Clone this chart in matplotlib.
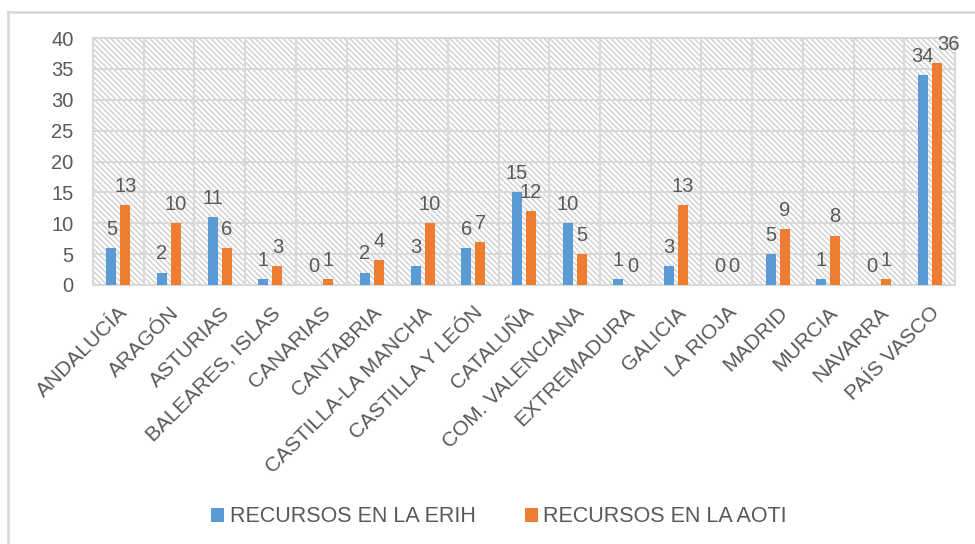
import matplotlib
matplotlib.use("Agg")
import matplotlib.pyplot as plt
from matplotlib.patches import Rectangle, Patch
from matplotlib.lines import Line2D
import numpy as np

categories = ["ANDALUCÍA", "ARAGÓN", "ASTURIAS", "BALEARES, ISLAS", "CANARIAS",
              "CANTABRIA", "CASTILLA-LA MANCHA", "CASTILLA Y LEÓN", "CATALUÑA",
              "COM. VALENCIANA", "EXTREMADURA", "GALICIA", "LA RIOJA", "MADRID",
              "MURCIA", "NAVARRA", "PAÍS VASCO"]
erih = [6, 2, 11, 1, 0, 2, 3, 6, 15, 10, 1, 3, 0, 5, 1, 0, 34]
erih_labels = ["5", "2", "11", "1", "0", "2", "3", "6", "15", "10", "1", "3", "0", "5", "1", "0", "34"]
aoti = [13, 10, 6, 3, 1, 4, 10, 7, 12, 5, 0, 13, 0, 9, 8, 1, 36]
aoti_labels = [str(v) for v in aoti]
series_names = ["RECURSOS EN LA ERIH", "RECURSOS EN LA AOTI"]
yticks = [0, 5, 10, 15, 20, 25, 30, 35, 40]

BLUE = "#5B9BD5"
ORANGE = "#ED7D31"
TXT = "#595959"
GRID = "#d9d9d9"

plt.rcParams['font.family'] = ['Liberation Sans', 'DejaVu Sans']
plt.rcParams['hatch.linewidth'] = 1.0

fig = plt.figure(figsize=(9.75, 5.44), dpi=100)
ax = fig.add_axes([93/975, 1-285/544, (955-93)/975, (285-38)/544])

# hatched background
bg = Rectangle((0, 0), 1, 1, transform=ax.transAxes, facecolor="white",
               edgecolor="#cfcfcf", hatch="\\\\\\\\\\\\", lw=0, zorder=0)
ax.add_patch(bg)

x = np.arange(len(categories))
w = 0.197
off = 0.138
ax.bar(x - off, erih, width=w, color=BLUE, zorder=3)
ax.bar(x + off, aoti, width=w, color=ORANGE, zorder=3)

n = len(categories)
for i, (xi, v, lab) in enumerate(zip(x, erih, erih_labels)):
    ax.annotate(lab, (xi - off, v), xytext=(0, 9.5), textcoords="offset points",
                ha="center", va="baseline", fontsize=14.5, color=TXT, zorder=5)
for i, (xi, v, lab) in enumerate(zip(x, aoti, aoti_labels)):
    dx = 8.5 if i == n - 1 else 0
    ax.annotate(lab, (xi + off, v), xytext=(dx, 9.5), textcoords="offset points",
                ha="center", va="baseline", fontsize=14.5, color=TXT, zorder=5)

ax.set_xlim(-0.5, n - 0.5)
ax.set_ylim(0, 40)
ax.set_yticks(yticks)
ax.set_yticklabels([str(t) for t in yticks], fontsize=14.5, color=TXT)
ax.tick_params(axis="y", length=0, pad=14)

# grid lines
for t in yticks:
    ax.axhline(t, color=GRID, lw=1.5, zorder=1)
for b in np.arange(-0.5, n, 1.0):
    ax.axvline(b, color=GRID, lw=1.5, zorder=1)

ax.set_xticks(x)
ax.set_xticklabels(categories, rotation=45, ha="right", va="top",
                   rotation_mode="anchor", fontsize=15, color=TXT)
ax.tick_params(axis="x", length=0, pad=13)

for s in ax.spines.values():
    s.set_color(GRID)
    s.set_linewidth(1.5)

# chart border (left and top)
fig.add_artist(Line2D([8/975, 8/975], [0, 1-12/544], transform=fig.transFigure,
                      color="#d9d9d9", lw=2))
fig.add_artist(Line2D([8/975, 1], [1-12/544, 1-12/544], transform=fig.transFigure,
                      color="#d9d9d9", lw=2))

handles = [Patch(facecolor=BLUE, edgecolor="none"), Patch(facecolor=ORANGE, edgecolor="none")]
leg = fig.legend(handles, series_names, loc="center", bbox_to_anchor=(0.512, 1-517/544),
                 ncol=2, frameon=False, fontsize=15.5, handlelength=0.6, handleheight=0.6,
                 handletextpad=0.25, columnspacing=2.3)
for t in leg.get_texts():
    t.set_color(TXT)

fig.savefig("out.png", dpi=100)
